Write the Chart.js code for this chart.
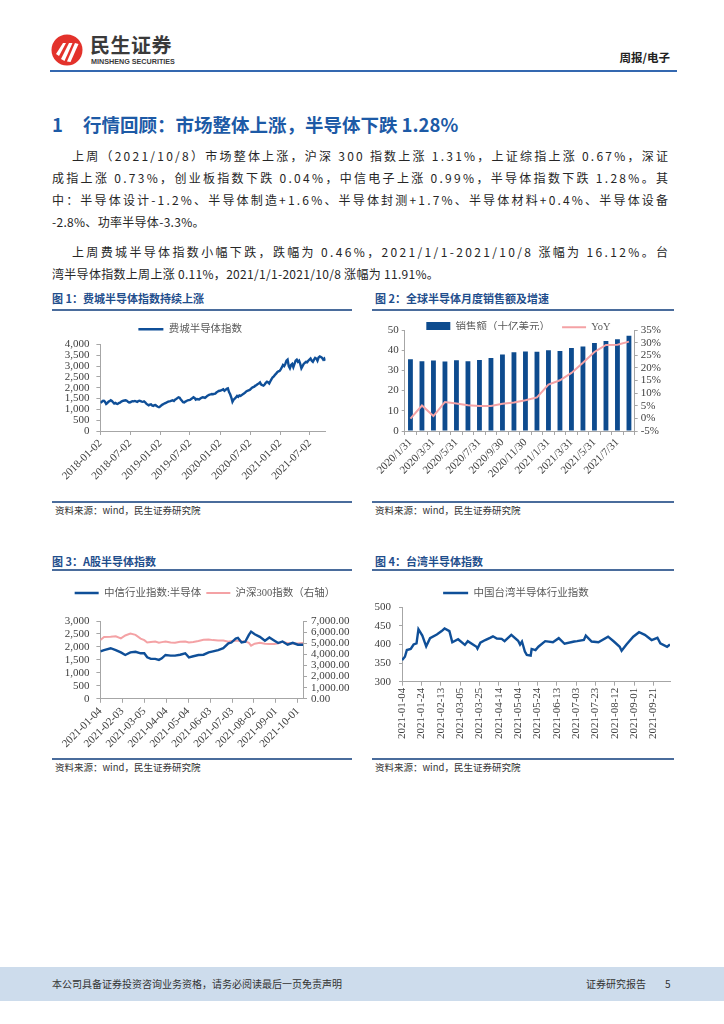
<!DOCTYPE html>
<html><head><meta charset="utf-8">
<script src="https://cdn.jsdelivr.net/npm/chart.js@4.4.0/dist/chart.umd.min.js"></script>
<style>
html,body{margin:0;padding:0;background:#fff}
body{width:724px;height:1024px;position:relative;overflow:hidden;font-family:"Noto Sans CJK SC",sans-serif;color:#333}
.a{position:absolute}
.ln{position:absolute;font-size:12px;line-height:20px;height:20px;color:#262626;white-space:nowrap}
.ft{position:absolute;font-size:11px;font-weight:bold;color:#1f4e8c;line-height:16px;height:16px;white-space:nowrap}
.hr{position:absolute;height:1.5px;background:#4a6c9c}
.src{position:absolute;font-size:9.5px;line-height:14px;color:#333;white-space:nowrap}
.cw{position:absolute}
</style></head>
<body>
<!-- header -->
<svg class="a" style="left:51px;top:34px" width="32" height="32" viewBox="0 0 32 32">
  <circle cx="16" cy="16" r="15.5" fill="#e3322b"/>
  <path d="M5 20 L12 9 L15 9 L8 22 Z" fill="#fff"/>
  <path d="M10 25 L18 9 L21.5 9 L13.5 27 Z" fill="#fff"/>
  <path d="M16 27.5 L24 9 L27.5 10 L19.5 28 Z" fill="#fff"/>
</svg>
<div class="a" style="left:90px;top:33px;font-size:20px;line-height:24px;font-weight:bold;color:#3a3a3a;letter-spacing:0.5px;white-space:nowrap">民生证券</div>
<div class="a" style="left:91px;top:57px;font-size:7.2px;line-height:9px;font-weight:bold;color:#3a3a3a;font-family:'Liberation Sans',sans-serif;white-space:nowrap">MINSHENG SECURITIES</div>
<div class="a" style="left:590px;top:49px;width:80px;text-align:right;font-size:11.5px;line-height:16px;font-weight:bold;color:#222;white-space:nowrap">周报/电子</div>
<div class="a" style="left:50px;top:70px;width:627px;height:2px;background:#3468b0"></div>

<!-- section title -->
<div class="a" style="left:52px;top:112px;font-size:18.5px;line-height:24px;font-weight:bold;color:#1d5aa6;white-space:nowrap"><span>1</span><span style="display:inline-block;width:20px"></span>行情回顾：市场整体上涨，半导体下跌 1.28%</div>

<!-- body -->
<div class="ln j" data-w="596" style="top:146px;left:72px">上周（2021/10/8）市场整体上涨，沪深 300 指数上涨 1.31%，上证综指上涨 0.67%，深证</div>
<div class="ln j" data-w="616" style="top:168px;left:52px">成指上涨 0.73%，创业板指数下跌 0.04%，中信电子上涨 0.99%，半导体指数下跌 1.28%。其</div>
<div class="ln j" data-w="616" style="top:190px;left:52px">中：半导体设计-1.2%、半导体制造+1.6%、半导体封测+1.7%、半导体材料+0.4%、半导体设备</div>
<div class="ln" style="top:212px;left:52px;letter-spacing:0.3px">-2.8%、功率半导体-3.3%。</div>
<div class="ln j" data-w="596" style="top:242px;left:72px">上周费城半导体指数小幅下跌，跌幅为 0.46%，2021/1/1-2021/10/8 涨幅为 16.12%。台</div>
<div class="ln" style="top:264px;left:52px;letter-spacing:0.3px">湾半导体指数上周上涨 0.11%，2021/1/1-2021/10/8 涨幅为 11.91%。</div>

<!-- figure titles row 1 -->
<div class="ft" style="left:52px;top:290px">图 1：费城半导体指数持续上涨</div>
<div class="ft" style="left:375px;top:290px">图 2：全球半导体月度销售额及增速</div>
<div class="hr" style="left:52px;top:309px;width:300px"></div>
<div class="hr" style="left:372px;top:309px;width:302px"></div>
<div class="hr" style="left:52px;top:501px;width:300px"></div>
<div class="hr" style="left:372px;top:501px;width:302px"></div>
<div class="src" style="left:55px;top:503px">资料来源：wind，民生证券研究院</div>
<div class="src" style="left:375px;top:503px">资料来源：wind，民生证券研究院</div>

<!-- figure titles row 2 -->
<div class="ft" style="left:52px;top:553px">图 3：A股半导体指数</div>
<div class="ft" style="left:375px;top:553px">图 4：台湾半导体指数</div>
<div class="hr" style="left:52px;top:569px;width:300px"></div>
<div class="hr" style="left:372px;top:569px;width:302px"></div>
<div class="hr" style="left:52px;top:758px;width:300px"></div>
<div class="hr" style="left:372px;top:758px;width:302px"></div>
<div class="src" style="left:55px;top:760px">资料来源：wind，民生证券研究院</div>
<div class="src" style="left:375px;top:760px">资料来源：wind，民生证券研究院</div>

<!-- charts -->
<div class="cw" style="left:55px;top:315px;width:290px;height:185px"><canvas id="c1"></canvas></div>
<div class="cw" style="left:365px;top:310px;width:307px;height:190px"><canvas id="c2"></canvas></div>
<div class="cw" style="left:55px;top:570px;width:300px;height:187px"><canvas id="c3"></canvas></div>
<div class="cw" style="left:362px;top:570px;width:328px;height:187px"><canvas id="c4"></canvas></div>

<!-- footer -->
<div class="a" style="left:0;top:967px;width:724px;height:34px;background:#cddcec"></div>
<div class="a" style="left:52px;top:976px;font-size:10px;line-height:16px;color:#333;white-space:nowrap">本公司具备证券投资咨询业务资格，请务必阅读最后一页免责声明</div>
<div class="a" style="left:586px;top:976px;font-size:10px;line-height:16px;color:#333;white-space:nowrap">证券研究报告</div>
<div class="a" style="left:665px;top:976px;font-size:10px;line-height:16px;color:#333">5</div>

<script>
// even character spacing for full (justified) lines
document.querySelectorAll('.ln.j').forEach(el => {
  const target = +el.dataset.w;
  const n = [...el.textContent].length;
  const natural = el.getBoundingClientRect().width;
  const ls = (target - natural) / (n - 1);
  el.style.letterSpacing = ls + 'px';
});

// ---------- DATA ----------
// Fig 1: Philadelphia Semiconductor Index, weekly, starting 2018-01-02
const soxStart = '2018-01-02';
const sox2018 = [1300,1340,1390,1400,1350, 1250,1290,1350,1380, 1420,1390,1330,1270, 1300,1270,1250,1290, 1310,1350,1380,1400,1410, 1420,1400,1350,1320, 1330,1360,1380,1370,1390, 1370,1350,1380,1400, 1380,1360,1350,1370, 1330,1260,1220,1190,1220, 1230,1180,1160,1190, 1200,1150,1120,1100];
const sox2019 = [1130,1180,1220,1250,1280, 1300,1330,1360,1370, 1380,1400,1420,1390, 1450,1480,1520,1560,1540, 1460,1400,1330,1320, 1360,1390,1420,1430, 1440,1480,1510,1560,1530, 1450,1480,1470,1460, 1500,1540,1560,1550, 1530,1570,1620,1650,1680, 1690,1710,1700,1720, 1730,1780,1820,1850,1860];
const sox2020 = [1880,1900,1930,1860, 1900,1950,1970,1800, 1700,1550,1350,1450,1500, 1550,1620,1580,1640, 1620,1660,1700,1730, 1780,1830,1860,1880,1900, 1950,2000,2030,2050, 2100,2130,2170,2200, 2250,2150,2120,2100,2150, 2230,2280,2250,2200, 2300,2400,2480,2520, 2600,2650,2720,2760,2780];
const sox2021 = [2850,2950,3050,3000, 3100,3250,3300,3000, 2900,3050,3100,2950,3100, 3250,3300,3200,3250, 3100,2900,3000,3100, 3150,3200,3180,3250,3300, 3350,3250,3200,3300, 3380,3350,3250,3400,3450, 3420,3380,3300,3350, 3250];
const soxTickLabels = ['2018-01-02','2018-07-02','2019-01-02','2019-07-02','2020-01-02','2020-07-02','2021-01-02','2021-07-02'];

// Fig 2: global semiconductor monthly sales (bn USD) and YoY (%)
const salesMonths = ['2020/1/31','2020/2/29','2020/3/31','2020/4/30','2020/5/31','2020/6/30','2020/7/31','2020/8/31','2020/9/30','2020/10/31','2020/11/30','2020/12/31','2021/1/31','2021/2/28','2021/3/31','2021/4/30','2021/5/31','2021/6/30','2021/7/31','2021/8/31'];
const salesValues = [35.5,34.5,34.9,34.4,35.0,34.5,35.2,36.2,37.9,39.0,39.4,39.2,40.0,39.6,41.1,41.8,43.6,44.5,45.4,47.2];
const yoyValues = [-0.1,5.1,0.9,6.5,5.9,5.2,4.9,4.9,5.8,6.3,7.2,8.3,13.4,15.1,18.0,22.0,26.3,29.1,29.2,30.4];
const salesTickLabels = ['2020/1/31','2020/3/31','2020/5/31','2020/7/31','2020/9/30','2020/11/30','2021/1/31','2021/3/31','2021/5/31','2021/7/31'];

// Fig 3: CITIC semiconductor index (left) and CSI 300 (right)
const a3Dates = ['2021-01-04','2021-01-09','2021-01-18','2021-01-25','2021-02-01','2021-02-07','2021-02-14','2021-02-21','2021-02-28','2021-03-05','2021-03-09','2021-03-14','2021-03-20','2021-03-25','2021-03-29','2021-04-03','2021-04-10','2021-04-16','2021-04-23','2021-04-30','2021-05-05','2021-05-11','2021-05-18','2021-05-25','2021-06-01','2021-06-07','2021-06-14','2021-06-21','2021-06-28','2021-07-02','2021-07-08','2021-07-11','2021-07-16','2021-07-21','2021-07-26','2021-07-29','2021-08-03','2021-08-10','2021-08-17','2021-08-23','2021-08-30','2021-09-04','2021-09-10','2021-09-17','2021-09-24','2021-10-01','2021-10-08'];
const citicSemi = [1830,1880,1950,1880,1790,1690,1790,1815,1755,1755,1600,1540,1540,1500,1560,1690,1665,1665,1700,1755,1600,1640,1690,1700,1790,1830,1880,1955,2135,2170,2325,2350,2170,2200,2465,2590,2490,2390,2240,2365,2240,2150,2210,2085,2160,2085,2085];
const csi300 = [5300,5560,5580,5630,5430,5700,5870,5750,5420,5280,5070,5120,5150,5040,5100,5160,5060,5050,5130,5160,5060,5110,5200,5310,5340,5280,5250,5240,5130,5200,5220,5220,5170,5150,5040,4780,4960,5040,4950,4920,4930,5000,5130,5010,4980,4980,5010];
const a3TickLabels = ['2021-01-04','2021-02-03','2021-03-05','2021-04-04','2021-05-04','2021-06-03','2021-07-03','2021-08-02','2021-09-01','2021-10-01'];

// Fig 4: Taiwan semiconductor industry index
const twDates = ['2021-01-04','2021-01-07','2021-01-09','2021-01-13','2021-01-16','2021-01-19','2021-01-21','2021-01-25','2021-01-29','2021-02-02','2021-02-09','2021-02-14','2021-02-17','2021-02-22','2021-02-25','2021-03-03','2021-03-10','2021-03-13','2021-03-22','2021-03-23','2021-03-26','2021-03-31','2021-04-05','2021-04-08','2021-04-12','2021-04-17','2021-04-20','2021-04-27','2021-05-04','2021-05-06','2021-05-08','2021-05-11','2021-05-13','2021-05-17','2021-05-18','2021-05-22','2021-05-25','2021-06-01','2021-06-09','2021-06-15','2021-06-21','2021-07-01','2021-07-04','2021-07-11','2021-07-13','2021-07-19','2021-07-26','2021-08-05','2021-08-11','2021-08-17','2021-08-19','2021-08-24','2021-08-31','2021-09-06','2021-09-12','2021-09-19','2021-09-25','2021-09-28','2021-10-05','2021-10-08'];
const twSemi = [358,367,385,388,400,403,441,424,395,417,427,436,443,436,406,414,399,409,394,389,405,412,418,422,416,415,409,426,410,400,408,381,372,370,388,385,394,409,406,417,402,408,409,412,424,408,406,421,408,394,383,400,421,433,426,412,418,403,394,400];
const twTickLabels = ['2021-01-04','2021-01-24','2021-02-13','2021-03-05','2021-03-25','2021-04-14','2021-05-04','2021-05-24','2021-06-13','2021-07-03','2021-07-23','2021-08-12','2021-09-01','2021-09-21'];

// ---------- STYLE ----------
const BLUE = '#0f4f98';
const PINK = '#f4a2a5';
const BAR = '#0d4b8e';
const AXIS = '#a6a6a6';
const TXT = '#404040';
const SERIF = "'Liberation Serif','Noto Sans CJK SC',serif";

Chart.defaults.font.family = SERIF;
Chart.defaults.font.size = 11;
Chart.defaults.color = TXT;
Chart.defaults.animation = false;

const legendFix = {
  id: 'legendFix',
  beforeInit(chart, args, opts) {
    const lg = chart.legend;
    if (!lg) return;
    const orig = lg.fit;
    lg.fit = function () { orig.call(this); if (opts && opts.h != null) this.height = opts.h; };
  }
};

const DAY = 86400000;
const soxValues = [].concat(sox2018, sox2019, sox2020, sox2021);
const soxT0 = Date.parse(soxStart);
const soxPts = soxValues.map((v, i) => ({ x: soxT0 + i * 7 * DAY, y: v }));

function dateAxis(tickLabels, min, max, rot, h) {
  const map = new Map(tickLabels.map(t => [Date.parse(t), t]));
  return {
    type: 'linear', bounds: 'data', min: min, max: max,
    afterBuildTicks: s => { s.ticks = tickLabels.map(t => ({ value: Date.parse(t) })); },
    ticks: { autoSkip: false, minRotation: rot, maxRotation: rot, padding: 2,
      callback: v => map.get(v) || '', font: { family: SERIF, size: 11 }, color: TXT },
    grid: { drawOnChartArea: false, tickLength: 4, color: AXIS },
    border: { color: AXIS },
    afterFit: s => { s.height = h; }
  };
}
function valAxis(pos, min, max, step, fmt, w, tl, pad) {
  return {
    position: pos, min: min, max: max,
    ticks: { stepSize: step, autoSkip: false, callback: fmt, padding: pad, font: { family: SERIF, size: 11 }, color: TXT },
    grid: { drawOnChartArea: false, tickLength: tl, color: AXIS },
    border: { color: AXIS },
    afterFit: s => { s.width = w; }
  };
}
const thousands = v => Number(v).toLocaleString('en-US');
function legendOpts(pad, extra) {
  return {
    display: true,
    labels: Object.assign({ usePointStyle: true, pointStyleWidth: 25, padding: pad,
      font: { family: SERIF, size: 10.5 }, color: '#595959' }, extra || {})
  };
}

// ---------- FIG 1 ----------
new Chart(document.getElementById('c1'), {
  type: 'line',
  data: { datasets: [{ label: '费城半导体指数', data: soxPts, borderColor: BLUE, backgroundColor: BLUE,
    borderWidth: 2.4, pointRadius: 0, pointStyle: 'line', tension: 0 }] },
  options: {
    responsive: true, maintainAspectRatio: false, animation: false,
    layout: { padding: { top: 3, right: 19.5, left: 0, bottom: 0 } },
    plugins: { legend: legendOpts(6), tooltip: { enabled: false }, legendFix: { h: 26.5 } },
    scales: {
      x: dateAxis(soxTickLabels, soxPts[0].x, soxPts[soxPts.length - 1].x, 45, 69),
      y: valAxis('left', 0, 4000, 500, thousands, 45.4, 4, 7)
    }
  },
  plugins: [legendFix]
});

// ---------- FIG 2 ----------
new Chart(document.getElementById('c2'), {
  data: {
    labels: salesMonths,
    datasets: [
      { type: 'bar', label: '销售额（十亿美元）', data: salesValues, backgroundColor: BAR, yAxisID: 'y',
        order: 1, barPercentage: 0.42, categoryPercentage: 1, pointStyle: 'rect' },
      { type: 'line', label: 'YoY', data: yoyValues, borderColor: PINK, backgroundColor: PINK, borderWidth: 2,
        pointRadius: 0, pointStyle: 'line', yAxisID: 'y1', order: 0, tension: 0 }
    ]
  },
  options: {
    responsive: true, maintainAspectRatio: false, animation: false,
    layout: { padding: { top: 0, right: 0, left: 0, bottom: 0 } },
    plugins: { legend: legendOpts(12, { pointStyleWidth: 24, sort: (a, b) => a.datasetIndex - b.datasetIndex }),
      tooltip: { enabled: false }, legendFix: { h: 20 } },
    scales: {
      x: {
        ticks: { autoSkip: false, minRotation: 45, maxRotation: 45, padding: 1,
          callback: function (v, i) { const l = salesMonths[i]; return salesTickLabels.includes(l) ? l : ''; },
          font: { family: SERIF, size: 11 }, color: TXT },
        grid: { drawOnChartArea: false, tickLength: 4, color: AXIS, offset: true },
        border: { color: AXIS },
        afterFit: s => { s.height = 69; }
      },
      y: valAxis('left', 0, 50, 10, v => v, 39.7, 3, 3),
      y1: valAxis('right', -5, 35, 5, v => v + '%', 37.3, 3, 3)
    }
  },
  plugins: [legendFix]
});

// ---------- FIG 3 ----------
const a3X = a3Dates.map(d => Date.parse(d));
new Chart(document.getElementById('c3'), {
  type: 'line',
  data: { datasets: [
    { label: '中信行业指数:半导体', data: a3X.map((x, i) => ({ x: x, y: citicSemi[i] })), borderColor: BLUE, backgroundColor: BLUE,
      borderWidth: 2.4, pointRadius: 0, pointStyle: 'line', yAxisID: 'y', tension: 0 },
    { label: '沪深300指数（右轴）', data: a3X.map((x, i) => ({ x: x, y: csi300[i] })), borderColor: PINK, backgroundColor: PINK,
      borderWidth: 2, pointRadius: 0, pointStyle: 'line', yAxisID: 'y1', tension: 0 }
  ] },
  options: {
    responsive: true, maintainAspectRatio: false, animation: false,
    layout: { padding: { top: 12.75, right: 0, left: 0, bottom: 0 } },
    plugins: { legend: legendOpts(5, { pointStyleWidth: 24 }), tooltip: { enabled: false }, legendFix: { h: 38.25 } },
    scales: {
      x: dateAxis(a3TickLabels, a3X[0], a3X[a3X.length - 1], 45, 58.2),
      y: valAxis('left', 0, 3000, 500, thousands, 45.4, 4, 7),
      y1: valAxis('right', 0, 7000, 1000, v => Number(v).toLocaleString('en-US', { minimumFractionDigits: 2, maximumFractionDigits: 2 }), 52, 4, 4)
    }
  },
  plugins: [legendFix]
});

// ---------- FIG 4 ----------
const twX = twDates.map(d => Date.parse(d));
new Chart(document.getElementById('c4'), {
  type: 'line',
  data: { datasets: [
    { label: '中国台湾半导体行业指数', data: twX.map((x, i) => ({ x: x, y: twSemi[i] })), borderColor: BLUE, backgroundColor: BLUE,
      borderWidth: 2.4, pointRadius: 0, pointStyle: 'line', tension: 0 }
  ] },
  options: {
    responsive: true, maintainAspectRatio: false, animation: false,
    layout: { padding: { top: 11.75, right: 20, left: 0, bottom: 0 } },
    plugins: { legend: legendOpts(6), tooltip: { enabled: false }, legendFix: { h: 25.55 } },
    scales: {
      x: dateAxis(twTickLabels, twX[0], twX[twX.length - 1], 90, 75.3),
      y: valAxis('left', 300, 500, 50, v => v, 40, 3, 8)
    }
  },
  plugins: [legendFix]
});
</script>
</body></html>
